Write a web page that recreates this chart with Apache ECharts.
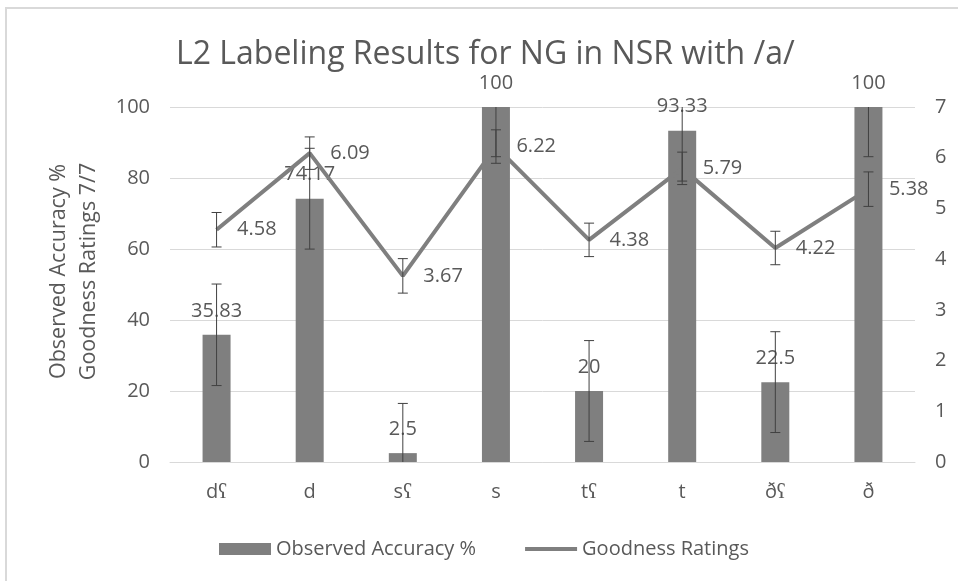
<!DOCTYPE html>
<html>
<head>
<meta charset="utf-8">
<title>L2 Labeling Results</title>
<script src="https://cdn.jsdelivr.net/npm/echarts@6/dist/echarts.min.js"></script>
<style>
  html, body { margin: 0; padding: 0; background: #fff; }
  #chart { width: 958px; height: 581px; }
</style>
</head>
<body>
<div id="chart"></div>
<script>
// data
var categories = ['d\u0295', 'd', 's\u0295', 's', 't\u0295', 't', '\u00f0\u0295', '\u00f0'];
var accuracy = [35.83, 74.17, 2.5, 100, 20, 93.33, 22.5, 100];
var accuracyErr = [14.3, 14.2, 14, 14, 14.2, 14.2, 14.2, 14];
var goodness = [4.58, 6.09, 3.67, 6.22, 4.38, 5.79, 4.22, 5.38];
var goodnessErr = [0.34, 0.32, 0.34, 0.33, 0.33, 0.32, 0.33, 0.34];
var leftTicks = [0, 100, 20];
var rightTicks = [0, 7, 1];

var txt = '#595959';
var font = 'Open Sans';

// error bar rows: [index, low, high, lowClipped, highClipped]
function errRows(vals, errs, lo, hi) {
  return vals.map(function (v, i) {
    var a = v - errs[i], b = v + errs[i];
    return [i, Math.max(lo, a), Math.min(hi, b), a < lo ? 1 : 0, b > hi ? 1 : 0];
  });
}

function renderErr(params, api) {
  var i = api.value(0);
  var pLow = api.coord([i, api.value(1)]);
  var pHigh = api.coord([i, api.value(2)]);
  var half = 5;
  var style = { stroke: '#404040', lineWidth: 1 };
  var kids = [{
    type: 'line',
    shape: { x1: pLow[0], y1: pLow[1], x2: pHigh[0], y2: pHigh[1] },
    style: style
  }];
  if (!api.value(3)) {
    kids.push({ type: 'line', shape: { x1: pLow[0] - half, y1: pLow[1], x2: pLow[0] + half, y2: pLow[1] }, style: style });
  }
  if (!api.value(4)) {
    kids.push({ type: 'line', shape: { x1: pHigh[0] - half, y1: pHigh[1], x2: pHigh[0] + half, y2: pHigh[1] }, style: style });
  }
  return { type: 'group', children: kids };
}

var chart = echarts.init(document.getElementById('chart'));
chart.setOption({
  animation: false,
  textStyle: { fontFamily: font },
  title: {
    text: 'L2 Labeling Results for NG in NSR with /a/',
    left: 171,
    top: 34,
    textStyle: { color: txt, fontSize: 32, fontWeight: 'normal', fontFamily: font }
  },
  graphic: [{
    type: 'rect',
    shape: { x: 6, y: 8, width: 1000, height: 1000 },
    style: { fill: 'none', stroke: '#d9d9d9', lineWidth: 2 },
    silent: true
  }],
  legend: {
    left: 219,
    top: 539,
    padding: 0,
    itemWidth: 52,
    itemHeight: 12,
    itemGap: 49,
    textStyle: { color: txt, fontSize: 20, fontFamily: font },
    data: [
      { name: 'Observed Accuracy %', icon: 'rect' },
      { name: 'Goodness Ratings', icon: 'path://M0,0 M52,12 M0,4 L52,4 L52,8 L0,8 Z' }
    ]
  },
  grid: { left: 170, right: 43, top: 107, bottom: 119 },
  xAxis: {
    type: 'category',
    data: categories,
    axisLine: { lineStyle: { color: '#d9d9d9' } },
    axisTick: { show: false },
    axisLabel: { color: txt, fontSize: 20, margin: 20, fontFamily: font }
  },
  yAxis: [{
    type: 'value',
    min: leftTicks[0],
    max: leftTicks[1],
    interval: leftTicks[2],
    name: 'Observed Accuracy %\nGoodness Ratings 7/7',
    nameLocation: 'middle',
    nameRotate: 90,
    nameGap: 66,
    nameTextStyle: { color: txt, fontSize: 21.5, lineHeight: 30, fontFamily: font, padding: [0, 0, 0, 26] },
    axisLine: { show: false },
    axisTick: { show: false },
    axisLabel: { color: txt, fontSize: 20, margin: 20, fontFamily: font },
    splitLine: { lineStyle: { color: '#d9d9d9' } }
  }, {
    type: 'value',
    min: rightTicks[0],
    max: rightTicks[1],
    interval: rightTicks[2],
    axisLine: { show: false },
    axisTick: { show: false },
    axisLabel: { color: txt, fontSize: 20, margin: 20, fontFamily: font },
    splitLine: { show: false }
  }],
  series: [{
    name: 'Observed Accuracy %',
    type: 'bar',
    yAxisIndex: 0,
    barWidth: 28,
    data: accuracy,
    itemStyle: { color: '#7f7f7f' },
    label: { show: true, position: 'top', distance: 14, color: txt, fontSize: 20, fontFamily: font }
  }, {
    name: 'Goodness Ratings',
    type: 'line',
    yAxisIndex: 1,
    data: goodness,
    symbol: 'none',
    lineStyle: { color: '#7f7f7f', width: 4 },
    itemStyle: { color: '#7f7f7f' },
    z: 3
  }, {
    // labels for the goodness line
    type: 'scatter',
    yAxisIndex: 1,
    data: goodness,
    symbolSize: 1,
    itemStyle: { color: 'rgba(0,0,0,0)', opacity: 1 },
    label: { show: true, position: 'right', distance: 20, color: txt, fontSize: 20, fontFamily: font },
    z: 5
  }, {
    type: 'custom',
    yAxisIndex: 0,
    renderItem: renderErr,
    data: errRows(accuracy, accuracyErr, leftTicks[0], leftTicks[1]),
    encode: { x: 0, y: [1, 2] },
    z: 4
  }, {
    type: 'custom',
    yAxisIndex: 1,
    renderItem: renderErr,
    data: errRows(goodness, goodnessErr, rightTicks[0], rightTicks[1]),
    encode: { x: 0, y: [1, 2] },
    z: 4
  }]
});
</script>
</body>
</html>
